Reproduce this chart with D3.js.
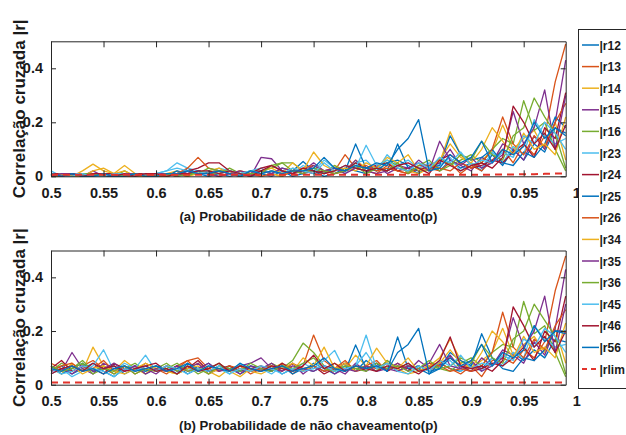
<!DOCTYPE html>
<html>
<head>
<meta charset="utf-8">
<script src="https://cdn.jsdelivr.net/npm/d3@7"></script>
<style>
  body { margin: 0; background: #fff; }
  svg text { font-family: "Liberation Sans", Arial, sans-serif; font-weight: bold; fill: #1a1a1a; }
</style>
</head>
<body>
<script>
// x values: probabilidade de não chaveamento
const pValues = [0.50,0.51,0.52,0.53,0.54,0.55,0.56,0.57,0.58,0.59,
                 0.60,0.61,0.62,0.63,0.64,0.65,0.66,0.67,0.68,0.69,
                 0.70,0.71,0.72,0.73,0.74,0.75,0.76,0.77,0.78,0.79,
                 0.80,0.81,0.82,0.83,0.84,0.85,0.86,0.87,0.88,0.89,
                 0.90,0.91,0.92,0.93,0.94,0.95,0.96,0.97,0.98,0.99];
const xTicks = [0.5,0.55,0.6,0.65,0.7,0.75,0.8,0.85,0.9,0.95,1];
const yTicks = [0,0.2,0.4];
const names = ["|r12","|r13","|r14","|r15","|r16","|r23","|r24","|r25","|r26","|r34","|r35","|r36","|r45","|r46","|r56"];

// panel (a)
const a12 = [.01,0,0,.01,0,0,.01,0,0,.01, 0,.01,0,.03,.01,0,.01,0,.01,0, .01,0,.02,0,.01,.02,0,.01,.03,.02, .01,.04,.02,.12,.03,.01,.04,.02,.06,.03, .05,.02,.08,.04,.1,.06,.12,.09,.18,.16];
const a13 = [0,.01,0,0,.01,0,0,.01,0,0, .01,0,.01,0,.02,.01,0,.01,0,.01, 0,.01,0,.02,.01,.03,.01,.02,.08,.03, .02,.01,.04,.02,.01,.03,.03,.02,.05,.01, .04,.02,.06,.1,.05,.12,.08,.15,.35,.49];
const a14 = [0,.01,0,.02,.045,.02,.01,.04,.01,0, 0,.01,.02,0,.01,.02,.01,.02,0,.01, .02,.01,0,.03,.02,.02,.01,.04,.02,.06, .03,.02,.05,.03,.02,.01,.03,.05,.165,.08, .04,.06,.09,.19,.1,.14,.17,.1,.2,.06];
const a15 = [.01,0,.01,0,.02,0,.01,0,0,.01, 0,.01,0,.01,.02,.01,0,.01,.01,0, .07,.065,.02,.01,.02,.05,.02,.01,.02,.06, .02,.04,.01,.03,.02,.06,.03,.05,.1,.04, .02,.07,.05,.12,.1,.06,.15,.1,.2,.43];
const a16 = [0,0,.01,0,.01,.01,0,.02,0,.01, .01,0,.01,0,.02,.01,.01,.03,.01,.02, .02,.03,.05,.05,.02,.03,.01,.04,.02,.05, .02,.03,.06,.04,.02,.03,.02,.07,.04,.06, .08,.05,.1,.14,.12,.28,.17,.2,.1,.02];
const a23 = [.02,0,.01,.01,0,.01,0,0,.01,0, .01,.02,.05,.03,.02,.01,.03,.02,.01,.02, .03,.01,.02,.01,.04,.02,.06,.03,.01,.05, .06,.02,.08,.04,.06,.03,.05,.04,.07,.02, .05,.03,.09,.05,.11,.08,.21,.15,.12,.14];
const a24 = [.01,.01,0,.01,0,.01,.01,0,.01,.01, 0,.01,.01,.02,.03,.05,.05,.02,.01,.01, .03,.04,.02,.01,.02,.01,.02,.03,.02,.05, .03,.04,.05,.02,.03,.02,.04,.06,.08,.05, .03,.04,.06,.05,.09,.12,.07,.18,.14,.31];
const a25 = [0,.01,.01,0,.01,0,0,.01,0,0, .01,0,.02,.01,.02,.01,.02,.01,0,.01, .02,.01,.03,.02,.055,.02,.01,.03,.02,.12, .03,.02,.05,.06,.04,.02,.03,.04,.15,.08, .06,.07,.1,.05,.04,.09,.07,.12,.22,.18];
const a26 = [.01,0,0,.01,.01,0,.01,0,0,.01, 0,0,.01,.03,.07,.03,.02,.01,.02,.01, .01,.02,.01,.02,.03,.04,.02,.01,.02,.03, .04,.02,.03,.02,.01,.04,.04,.03,.02,.05, .03,.05,.1,.22,.12,.08,.15,.11,.2,.27];
const a34 = [0,.01,0,0,.02,.03,.01,.02,0,0, .01,0,.01,.02,.01,.02,.03,.01,.02,.01, .02,.03,.01,.05,.02,.09,.04,.02,.03,.02, .05,.03,.07,.05,.08,.02,.03,.06,.12,.07, .05,.1,.18,.13,.08,.16,.1,.12,.08,.22];
const a35 = [0,.01,.01,0,0,.01,0,.01,.01,0, .01,.01,0,.02,.01,.01,.02,.01,.02,.01, .02,.01,.03,.02,.01,.04,.02,.03,.01,.03, .02,.01,.02,.04,.03,.05,.02,.13,.06,.04, .07,.03,.05,.08,.24,.12,.18,.32,.1,.3];
const a36 = [.01,0,0,.01,.01,0,.01,0,.01,0, 0,.01,0,.01,.01,.03,.02,.02,.01,.01, .01,.04,.05,.02,.01,.03,.02,.01,.02,.04, .01,.03,.02,.05,.01,.04,.06,.02,.04,.08, .06,.13,.08,.06,.15,.18,.29,.22,.16,.03];
const a45 = [.01,0,0,.01,0,0,.01,.01,0,.01, .01,.02,.03,.02,.01,.02,.01,.02,.01,.02, .01,.02,.01,.03,.02,.01,.05,.02,.04,.03, .115,.04,.06,.03,.02,.05,.03,.07,.05,.09, .04,.06,.05,.09,.07,.15,.12,.2,.16,.1];
const a46 = [.01,0,.01,0,.01,.01,0,.01,0,.01, .01,0,.01,.01,.02,.02,.01,.02,.01,0, .02,.04,.02,.01,.03,.02,.01,.02,.04,.03, .02,.03,.02,.04,.05,.03,.01,.06,.04,.02, .04,.05,.03,.07,.26,.2,.12,.16,.1,.19];
const a56 = [.01,0,.01,0,0,.01,0,0,.01,0, 0,.01,.01,.02,.01,.01,.02,.01,0,.02, .01,.02,.01,.02,.02,.03,.07,.03,.02,.04, .03,.05,.04,.1,.14,.21,.02,.03,.08,.05, .07,.13,.05,.1,.08,.11,.2,.14,.18,.15];
const rlimA = [.006,.006,.006,.006,.006,.006,.006,.006,.006,.006, .006,.006,.006,.006,.006,.006,.006,.006,.006,.006, .006,.006,.006,.006,.006,.006,.006,.006,.006,.006, .006,.006,.006,.006,.006,.006,.006,.006,.006,.006, .006,.006,.006,.007,.007,.008,.008,.009,.01,.011];

// panel (b)
const b12 = [.05,.07,.04,.06,.08,.05,.03,.06,.07,.04, .06,.05,.07,.04,.06,.08,.05,.07,.04,.06, .05,.07,.04,.06,.05,.08,.06,.04,.07,.05, .09,.06,.08,.05,.07,.06,.04,.08,.06,.05, .08,.06,.1,.07,.12,.09,.13,.1,.17,.16];
const b13 = [.08,.06,.05,.07,.09,.06,.04,.07,.05,.08, .06,.04,.07,.09,.05,.06,.08,.05,.07,.04, .06,.05,.08,.04,.07,.185,.09,.06,.08,.05, .07,.09,.05,.08,.06,.07,.05,.08,.06,.04, .07,.03,.09,.1,.08,.13,.1,.16,.35,.48];
const b14 = [.06,.04,.08,.05,.14,.07,.05,.09,.06,.04, .07,.05,.04,.06,.08,.05,.03,.06,.07,.05, .04,.06,.08,.05,.1,.07,.05,.08,.06,.11, .07,.05,.09,.06,.04,.05,.07,.1,.17,.09, .06,.09,.12,.21,.11,.15,.18,.12,.21,.08];
const b15 = [.07,.05,.12,.06,.04,.08,.06,.05,.07,.06, .04,.07,.05,.06,.08,.04,.06,.05,.07,.08, .1,.06,.05,.08,.04,.07,.05,.06,.04,.08, .05,.07,.06,.08,.05,.09,.06,.07,.11,.06, .05,.1,.07,.13,.11,.08,.16,.11,.21,.43];
const b16 = [.05,.08,.06,.09,.05,.07,.04,.06,.08,.05, .06,.08,.05,.07,.04,.06,.08,.05,.07,.06, .05,.08,.06,.09,.155,.12,.07,.05,.08,.06, .07,.05,.09,.06,.08,.05,.07,.06,.05,.08, .1,.07,.12,.15,.14,.31,.19,.22,.12,.03];
const b23 = [.04,.06,.03,.05,.07,.13,.05,.08,.06,.11, .05,.07,.04,.06,.05,.07,.06,.04,.08,.05, .06,.04,.07,.05,.08,.06,.09,.128,.05,.07, .185,.06,.08,.05,.07,.05,.06,.08,.09,.05, .07,.05,.1,.07,.12,.1,.22,.17,.14,.15];
const b24 = [.06,.09,.05,.07,.06,.04,.08,.06,.05,.07, .08,.05,.07,.06,.09,.05,.06,.07,.05,.06, .07,.05,.08,.06,.05,.07,.04,.06,.08,.05, .06,.08,.05,.07,.06,.04,.07,.08,.1,.07, .05,.06,.08,.07,.1,.14,.09,.2,.16,.33];
const b25 = [.07,.04,.06,.08,.05,.06,.07,.04,.06,.05, .07,.06,.04,.08,.06,.05,.07,.06,.05,.07, .06,.05,.07,.04,.06,.05,.07,.06,.05,.148, .06,.08,.05,.178,.06,.07,.05,.06,.12,.09, .07,.19,.1,.06,.05,.1,.09,.13,.2,.2];
const b26 = [.05,.07,.08,.05,.06,.09,.05,.07,.04,.06, .05,.07,.06,.09,.1,.06,.05,.07,.06,.05, .06,.07,.05,.08,.06,.07,.05,.06,.09,.05, .07,.06,.08,.05,.07,.06,.08,.07,.05,.06, .05,.07,.12,.27,.14,.1,.17,.13,.22,.28];
const b34 = [.06,.05,.07,.04,.06,.07,.05,.04,.06,.08, .06,.05,.04,.06,.07,.04,.06,.05,.03,.06, .05,.07,.06,.08,.05,.07,.14,.06,.08,.05, .07,.136,.08,.06,.1,.05,.07,.08,.13,.08, .06,.12,.2,.16,.1,.18,.12,.14,.1,.23];
const b35 = [.05,.06,.04,.07,.05,.06,.08,.05,.07,.04, .06,.05,.07,.05,.06,.08,.05,.06,.04,.07, .06,.08,.05,.07,.06,.05,.07,.04,.06,.05, .07,.05,.06,.05,.07,.06,.08,.15,.07,.06, .09,.05,.07,.1,.25,.14,.2,.33,.12,.3];
const b36 = [.07,.05,.06,.08,.04,.06,.05,.07,.04,.06, .05,.06,.08,.05,.06,.04,.07,.06,.05,.08, .06,.05,.07,.06,.08,.1,.06,.05,.07,.06, .05,.08,.06,.07,.05,.06,.09,.06,.07,.1, .08,.15,.1,.08,.17,.2,.3,.24,.18,.04];
const b45 = [.06,.04,.05,.07,.06,.05,.03,.06,.05,.07, .05,.07,.06,.04,.06,.05,.07,.04,.06,.05, .07,.06,.04,.06,.05,.06,.07,.05,.06,.07, .12,.06,.08,.05,.04,.07,.05,.09,.07,.11, .06,.08,.07,.11,.09,.17,.14,.21,.18,.12];
const b46 = [.04,.06,.07,.05,.08,.06,.07,.05,.06,.07, .05,.06,.04,.07,.05,.06,.08,.05,.07,.06, .05,.07,.06,.05,.07,.11,.06,.08,.05,.07, .06,.05,.07,.06,.08,.05,.06,.09,.178,.07, .06,.07,.05,.09,.29,.22,.14,.18,.12,.2];
const b56 = [.06,.05,.07,.05,.06,.04,.06,.07,.05,.06, .07,.05,.06,.08,.05,.07,.06,.05,.08,.06, .05,.06,.07,.05,.06,.07,.1,.06,.05,.07, .06,.07,.05,.12,.15,.21,.04,.06,.1,.07, .09,.15,.07,.12,.1,.13,.22,.16,.2,.19];
const rlimB = [.008,.008,.008,.008,.008,.008,.008,.008,.008,.008, .008,.008,.008,.008,.008,.008,.008,.008,.008,.008, .008,.008,.008,.008,.008,.008,.008,.008,.008,.008, .008,.008,.008,.008,.008,.008,.008,.008,.008,.008, .008,.008,.008,.008,.008,.008,.008,.008,.008,.008];

const panelA = [a12,a13,a14,a15,a16,a23,a24,a25,a26,a34,a35,a36,a45,a46,a56];
const panelB = [b12,b13,b14,b15,b16,b23,b24,b25,b26,b34,b35,b36,b45,b46,b56];

// MATLAB default colour order
const colors = ["#0072BD","#D95319","#EDB120","#7E2F8E","#77AC30","#4DBEEE","#A2142F"];
const limColor = "#e2332b";

const W = 626, H = 435;
const left = 51, right = 565.7;

const svg = d3.select("body").append("svg")
  .attr("width", W).attr("height", H);

const x = d3.scaleLinear().domain([0.5, 0.99]).range([left, right]);

function drawPanel(top, bottom, values, rlim, label) {
  const y = d3.scaleLinear().domain([0, 0.5]).range([bottom, top]);
  const g = svg.append("g");

  const line = d3.line()
    .x((d, i) => x(pValues[i]))
    .y(d => y(d));

  values.forEach((vals, k) => {
    g.append("path")
      .datum(vals)
      .attr("fill", "none")
      .attr("stroke", colors[k % colors.length])
      .attr("stroke-width", 1.3)
      .attr("stroke-linejoin", "round")
      .attr("d", line);
  });

  g.append("path")
    .datum(rlim)
    .attr("fill", "none")
    .attr("stroke", limColor)
    .attr("stroke-width", 2)
    .attr("stroke-dasharray", "7,5")
    .attr("d", line);

  // axes (MATLAB box with inward ticks)
  const xb = g.append("g")
    .attr("transform", `translate(0,${bottom})`)
    .call(d3.axisBottom(x).tickValues(xTicks).tickSize(-6).tickSizeOuter(0).tickPadding(11)
      .tickFormat(d3.format("")));
  const xt = g.append("g")
    .attr("transform", `translate(0,${top})`)
    .call(d3.axisTop(x).tickValues(xTicks.slice(0, -1)).tickSize(-6).tickSizeOuter(0).tickFormat(""));
  const yl = g.append("g")
    .attr("transform", `translate(${left},0)`)
    .call(d3.axisLeft(y).tickValues(yTicks).tickSize(-5).tickSizeOuter(0).tickPadding(8)
      .tickFormat(d3.format("")));
  const yr = g.append("g")
    .attr("transform", `translate(${right},0)`)
    .call(d3.axisRight(y).tickValues(yTicks).tickSize(-5).tickSizeOuter(0).tickFormat(""));

  [xb, xt, yl, yr].forEach(a => {
    a.selectAll(".domain").attr("stroke", "#262626").attr("stroke-width", 1);
    a.selectAll(".tick line").attr("stroke", "#262626").attr("stroke-width", 1);
    a.selectAll("text").attr("font-size", 14.5).attr("fill", "#1a1a1a")
      .style("font-family", "'Liberation Sans', Arial, sans-serif").style("font-weight", "bold");
  });
  // the "1" label sits outside the box: no tick mark there
  xb.selectAll(".tick").filter(d => d === 1).select("line").remove();
  xb.selectAll(".tick").filter(d => d === 0).select("line").remove();

  g.append("text")
    .attr("x", (left + right) / 2)
    .attr("y", bottom + 45)
    .attr("text-anchor", "middle")
    .attr("font-size", 13.2)
    .text(label);

  g.append("text")
    .attr("transform", `translate(25,${(top + bottom) / 2}) rotate(-90)`)
    .attr("text-anchor", "middle")
    .attr("font-size", 17)
    .text("Correlação cruzada |r|");
}

drawPanel(41.3, 176.3, panelA, rlimA, "(a) Probabilidade de não chaveamento(p)");
drawPanel(250.5, 384.7, panelB, rlimB, "(b) Probabilidade de não chaveamento(p)");

// legend
const legY0 = 45, legStep = 21.6;
const leg = svg.append("g");
leg.append("rect")
  .attr("x", 578.5).attr("y", 29.5)
  .attr("width", 60).attr("height", 359)
  .attr("fill", "#fff").attr("stroke", "#262626").attr("stroke-width", 1);

const legItems = names.map((n, k) => ({ name: n, color: colors[k % colors.length], dash: null }))
  .concat([{ name: "|rlim", color: limColor, dash: "5,4" }]);

legItems.forEach((it, k) => {
  const yy = legY0 + k * legStep;
  leg.append("line")
    .attr("x1", 582).attr("x2", 599)
    .attr("y1", yy).attr("y2", yy)
    .attr("stroke", it.color)
    .attr("stroke-width", it.dash ? 2 : 1.5)
    .attr("stroke-dasharray", it.dash);
  leg.append("text")
    .attr("x", 599.5).attr("y", yy + 4.5)
    .attr("font-size", 12)
    .text(it.name);
});
</script>
</body>
</html>
